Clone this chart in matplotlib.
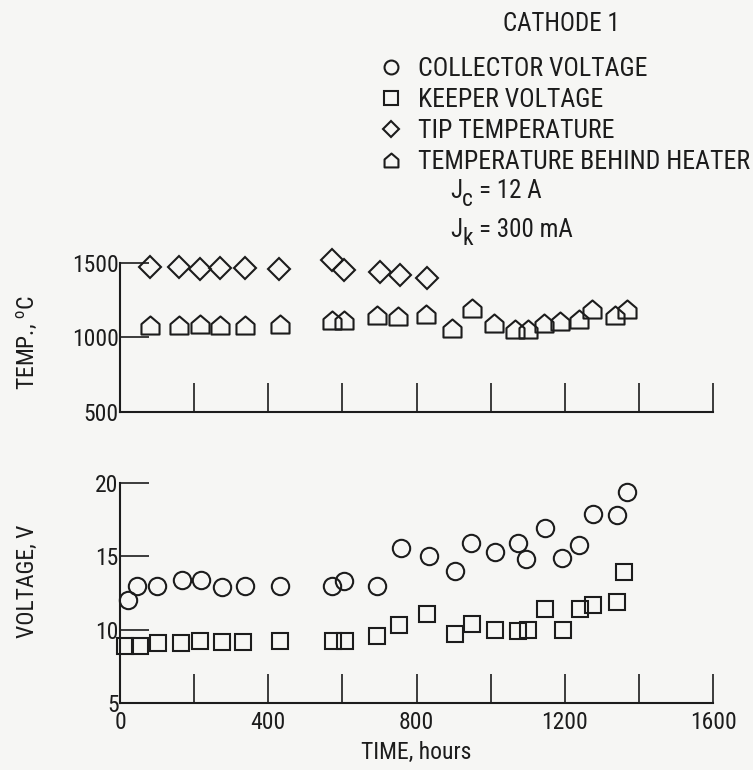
import numpy as np
import matplotlib.pyplot as plt
from matplotlib.path import Path

plt.rcParams['font.family'] = ['Roboto Condensed', 'DejaVu Sans']
plt.rcParams['mathtext.fontset'] = 'custom'
plt.rcParams['mathtext.rm'] = 'Roboto Condensed'
plt.rcParams['mathtext.it'] = 'Roboto Condensed'

INK = '#1c1c1c'
PAPER = '#f6f6f4'

# Temperatures, deg C
tip_hours = [81, 159, 215, 271, 336, 428, 571, 605, 701, 756, 829]
tip_temp = [1473, 1473, 1462, 1468, 1468, 1462, 1518, 1450, 1439, 1416, 1400]

heater_hours = [81, 159, 215, 271, 336, 431, 571, 603, 694, 751, 826,
                897, 950, 1009, 1067, 1101, 1143, 1188, 1238, 1273, 1336, 1368]
heater_temp = [1084, 1084, 1088, 1081, 1081, 1093, 1115, 1115, 1149, 1145, 1156,
               1066, 1195, 1100, 1054, 1054, 1100, 1111, 1122, 1190, 1149, 1190]

# Voltages, V
collector_hours = [21, 45, 101, 167, 218, 274, 336, 431, 572, 605, 694, 759,
                   835, 905, 948, 1011, 1073, 1096, 1148, 1193, 1238, 1277, 1340, 1368]
collector_volt = [12.0, 13.0, 13.0, 13.4, 13.4, 12.9, 13.0, 13.0, 13.0, 13.3, 13.0, 15.6,
                  15.0, 14.0, 15.9, 15.3, 15.9, 14.8, 16.9, 14.9, 15.8, 17.9, 17.8, 19.4]

keeper_hours = [13, 53, 103, 165, 215, 275, 333, 431, 574, 608, 694, 753,
                829, 905, 950, 1011, 1073, 1101, 1148, 1196, 1242, 1277, 1340, 1359]
keeper_volt = [8.9, 8.9, 9.1, 9.1, 9.2, 9.15, 9.15, 9.2, 9.2, 9.2, 9.6, 10.3,
               11.1, 9.7, 10.4, 10.0, 9.9, 10.0, 11.4, 10.0, 11.4, 11.65, 11.9, 13.9]

time_ticks = [0, 200, 400, 600, 800, 1000, 1200, 1400, 1600]
time_labels = ['0', '', '400', '', '800', '', '1200', '', '1600']

# house-shaped marker for the heater thermocouple
house = Path([(-1, -1), (1, -1), (1, 0.15), (0, 1), (-1, 0.15), (-1, -1)],
             [Path.MOVETO, Path.LINETO, Path.LINETO, Path.LINETO, Path.LINETO, Path.CLOSEPOLY])

mk = dict(linestyle='none', markerfacecolor='none', markeredgecolor=INK,
          markeredgewidth=1.5, clip_on=False)

fig = plt.figure(figsize=(7.53, 7.70), dpi=100, facecolor=PAPER)
ax_t = fig.add_axes([0.1594, 0.465, 0.7875, 0.1935])
ax_v = fig.add_axes([0.1594, 0.087, 0.7875, 0.2857])

for ax in (ax_t, ax_v):
    ax.set_facecolor(PAPER)
    ax.spines[['top', 'right']].set_visible(False)
    for s in ('left', 'bottom'):
        ax.spines[s].set_color(INK)
        ax.spines[s].set_linewidth(1.5)
    ax.set_xlim(0, 1600)
    ax.set_xticks(time_ticks)
    ax.tick_params(direction='in', length=21, width=1.2, color=INK,
                   labelsize=17, labelcolor=INK)
    ax.tick_params(axis='y', pad=1)

# temperature panel
ax_t.plot(tip_hours, tip_temp, marker='D', markersize=11, **mk)
ax_t.plot(heater_hours, heater_temp, marker=house, markersize=13, **mk)
ax_t.set_ylim(500, 1500)
ax_t.set_yticks([500, 1000, 1500])
ax_t.set_xticklabels([])
ax_t.set_ylabel('TEMP., $^\\mathrm{o}$C', fontsize=17, color=INK)
ax_t.yaxis.set_label_coords(-0.136, 0.467)

# voltage panel
h_col, = ax_v.plot(collector_hours, collector_volt, marker='o', markersize=12.5, **mk)
h_kee, = ax_v.plot(keeper_hours, keeper_volt, marker='s', markersize=12, **mk)
ax_v.set_ylim(5, 20)
ax_v.set_yticks([5, 10, 15, 20])
ax_v.set_xticklabels(time_labels)
ax_v.tick_params(axis='x', pad=6)
ax_v.set_xlabel('TIME, hours', fontsize=17, color=INK, labelpad=5)
ax_v.set_ylabel('VOLTAGE, V', fontsize=17, color=INK)
ax_v.yaxis.set_label_coords(-0.136, 0.555)

h_tip = plt.Line2D([], [], marker='D', markersize=10, **mk)
h_hea = plt.Line2D([], [], marker=house, markersize=12.5, **mk)
leg = fig.legend([h_col, h_kee, h_tip, h_hea],
                 ['COLLECTOR VOLTAGE', 'KEEPER VOLTAGE', 'TIP TEMPERATURE',
                  'TEMPERATURE BEHIND HEATER'],
                 loc='upper left', bbox_to_anchor=(0.505, 0.926),
                 frameon=False, fontsize=18.5, markerscale=0.8,
                 handlelength=0.85, handletextpad=0.6, labelspacing=0.27,
                 borderaxespad=0, borderpad=0, labelcolor=INK)

fig.text(0.745, 0.969, 'CATHODE 1', fontsize=18, color=INK, ha='center', va='center')

# operating currents, subscripts set as separate lowered text
for y, sub, rest in [(0.752, 'c', '= 12 A'), (0.701, 'k', '= 300 mA')]:
    fig.text(0.598, y, 'J', fontsize=18, color=INK, va='center')
    fig.text(0.614, y - 0.011, sub, fontsize=17, color=INK, va='center')
    fig.text(0.636, y, rest, fontsize=18, color=INK, va='center')

fig.savefig('out.png', dpi=100, facecolor=PAPER)
